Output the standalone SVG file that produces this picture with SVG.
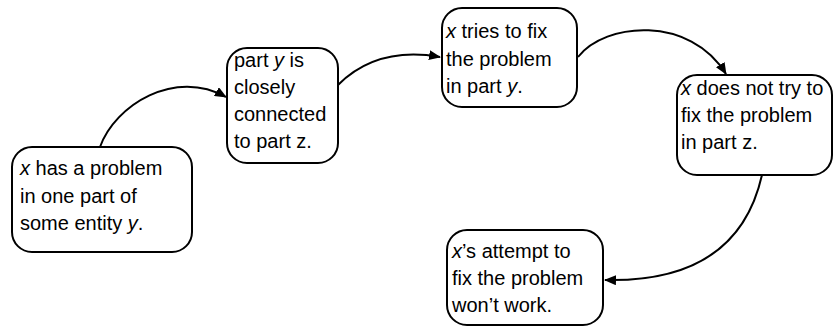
<svg xmlns="http://www.w3.org/2000/svg" width="833" height="327" viewBox="0 0 833 327">
<style>
.box{fill:#fff;stroke:#000;stroke-width:2}
.t{font-family:"Liberation Sans",Arial,sans-serif;font-size:20px;fill:#000}
.i{font-style:italic}
.c{fill:none;stroke:#000;stroke-width:2}
</style>
<defs>
<marker id="ah" viewBox="0 0 12 10" refX="11" refY="5" markerWidth="12" markerHeight="10" markerUnits="userSpaceOnUse" orient="auto">
<path d="M0,0 L12,5 L0,10 Z" fill="#000"/>
</marker>
</defs>
<rect width="833" height="327" fill="#fff"/>
<g id="connectors">
<path class="c" d="M100,147 C115,105 175,68 226,97" marker-end="url(#ah)"/>
<path class="c" d="M338,85 C365,58 400,50 440,57" marker-end="url(#ah)"/>
<path class="c" d="M578,57 C605,22 690,15 726,74" marker-end="url(#ah)"/>
<path class="c" d="M762,175 C745,250 690,282 605,280" marker-end="url(#ah)"/>
</g>
<g id="n1">
<rect class="box" x="12" y="147" width="180" height="105" rx="20"/>
<text class="t" x="20" y="175"><tspan class="i">x</tspan> has a problem</text>
<text class="t" x="20" y="203">in one part of</text>
<text class="t" x="20" y="230">some entity <tspan class="i">y</tspan>.</text>
</g>
<g id="n2">
<rect class="box" x="227" y="48" width="111" height="115" rx="20"/>
<text class="t" x="234" y="67">part <tspan class="i">y</tspan> is</text>
<text class="t" x="234" y="94">closely</text>
<text class="t" x="234" y="121">connected</text>
<text class="t" x="234" y="148">to part z.</text>
</g>
<g id="n3">
<rect class="box" x="442" y="8" width="135" height="99" rx="20"/>
<text class="t" x="446" y="38"><tspan class="i">x</tspan> tries to fix</text>
<text class="t" x="446" y="66">the problem</text>
<text class="t" x="446" y="93">in part <tspan class="i">y</tspan>.</text>
</g>
<g id="n4">
<rect class="box" x="677" y="75" width="155" height="100" rx="20"/>
<text class="t" x="681" y="95"><tspan class="i">x</tspan> does not try to</text>
<text class="t" x="681" y="122">fix the problem</text>
<text class="t" x="681" y="149">in part z.</text>
</g>
<g id="n5">
<rect class="box" x="447" y="230" width="156" height="95" rx="20"/>
<text class="t" x="452" y="258"><tspan class="i">x</tspan>’s attempt to</text>
<text class="t" x="452" y="285">fix the problem</text>
<text class="t" x="452" y="312">won’t work.</text>
</g>
</svg>
